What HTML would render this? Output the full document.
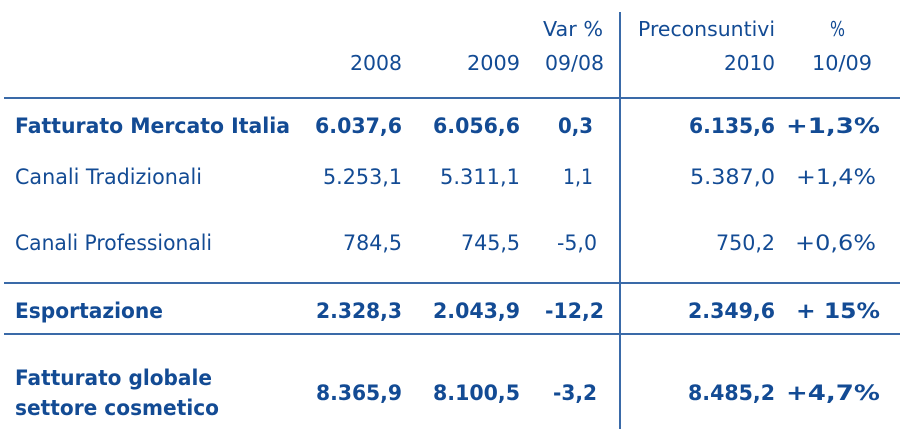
<!DOCTYPE html>
<html><head><meta charset="utf-8"><style>html,body{margin:0;padding:0;background:#fff}svg{display:block}</style></head>
<body>
<svg width="900" height="433" xmlns="http://www.w3.org/2000/svg" font-family="'DejaVu Sans','Liberation Sans',sans-serif" fill="#134b94" font-size="21">
<g stroke="#3a6aa8" stroke-width="2">
<line x1="4" y1="98" x2="900" y2="98"/>
<line x1="4" y1="283" x2="900" y2="283"/>
<line x1="4" y1="334" x2="900" y2="334"/>
<line x1="620" y1="12" x2="620" y2="429"/>
</g>
<g font-size="20">
<text x="543" y="36" textLength="60" lengthAdjust="spacingAndGlyphs">Var %</text>
<text x="638" y="36" textLength="137" lengthAdjust="spacingAndGlyphs">Preconsuntivi</text>
<text x="830" y="36" textLength="15" lengthAdjust="spacingAndGlyphs">%</text>
<text x="350" y="70" textLength="52" lengthAdjust="spacingAndGlyphs">2008</text>
<text x="467" y="70" textLength="53" lengthAdjust="spacingAndGlyphs">2009</text>
<text x="545" y="70" textLength="59" lengthAdjust="spacingAndGlyphs">09/08</text>
<text x="724" y="70" textLength="51" lengthAdjust="spacingAndGlyphs">2010</text>
<text x="812" y="70" textLength="60" lengthAdjust="spacingAndGlyphs">10/09</text>
</g>
<g font-weight="bold">
<text x="15" y="133" textLength="275" lengthAdjust="spacingAndGlyphs">Fatturato Mercato Italia</text>
<text x="315" y="133" textLength="87" lengthAdjust="spacingAndGlyphs">6.037,6</text>
<text x="433" y="133" textLength="87" lengthAdjust="spacingAndGlyphs">6.056,6</text>
<text x="558" y="133" textLength="35" lengthAdjust="spacingAndGlyphs">0,3</text>
<text x="689" y="133" textLength="86" lengthAdjust="spacingAndGlyphs">6.135,6</text>
<text x="786" y="133" textLength="94" lengthAdjust="spacingAndGlyphs">+1,3%</text>

<text x="15" y="318" textLength="148" lengthAdjust="spacingAndGlyphs">Esportazione</text>
<text x="316" y="318" textLength="86" lengthAdjust="spacingAndGlyphs">2.328,3</text>
<text x="433" y="318" textLength="87" lengthAdjust="spacingAndGlyphs">2.043,9</text>
<text x="545" y="318" textLength="59" lengthAdjust="spacingAndGlyphs">-12,2</text>
<text x="688" y="318" textLength="87" lengthAdjust="spacingAndGlyphs">2.349,6</text>
<text x="796" y="318" textLength="84" lengthAdjust="spacingAndGlyphs">+ 15%</text>

<text x="15" y="385" textLength="197" lengthAdjust="spacingAndGlyphs">Fatturato globale</text>
<text x="15" y="415" textLength="204" lengthAdjust="spacingAndGlyphs">settore cosmetico</text>
<text x="316" y="400" textLength="86" lengthAdjust="spacingAndGlyphs">8.365,9</text>
<text x="433" y="400" textLength="87" lengthAdjust="spacingAndGlyphs">8.100,5</text>
<text x="553" y="400" textLength="44" lengthAdjust="spacingAndGlyphs">-3,2</text>
<text x="688" y="400" textLength="87" lengthAdjust="spacingAndGlyphs">8.485,2</text>
<text x="786" y="400" textLength="94" lengthAdjust="spacingAndGlyphs">+4,7%</text>
</g>
<g>
<text x="15" y="184" textLength="187" lengthAdjust="spacingAndGlyphs">Canali Tradizionali</text>
<text x="323" y="184" textLength="79" lengthAdjust="spacingAndGlyphs">5.253,1</text>
<text x="440" y="184" textLength="80" lengthAdjust="spacingAndGlyphs">5.311,1</text>
<text x="563" y="184" textLength="30" lengthAdjust="spacingAndGlyphs">1,1</text>
<text x="690" y="184" textLength="85" lengthAdjust="spacingAndGlyphs">5.387,0</text>
<text x="796" y="184" textLength="80" lengthAdjust="spacingAndGlyphs">+1,4%</text>

<text x="15" y="250" textLength="197" lengthAdjust="spacingAndGlyphs">Canali Professionali</text>
<text x="343" y="250" textLength="59" lengthAdjust="spacingAndGlyphs">784,5</text>
<text x="461" y="250" textLength="59" lengthAdjust="spacingAndGlyphs">745,5</text>
<text x="557" y="250" textLength="40" lengthAdjust="spacingAndGlyphs">-5,0</text>
<text x="716" y="250" textLength="59" lengthAdjust="spacingAndGlyphs">750,2</text>
<text x="795" y="250" textLength="81" lengthAdjust="spacingAndGlyphs">+0,6%</text>
</g>
</svg>
</body></html>
